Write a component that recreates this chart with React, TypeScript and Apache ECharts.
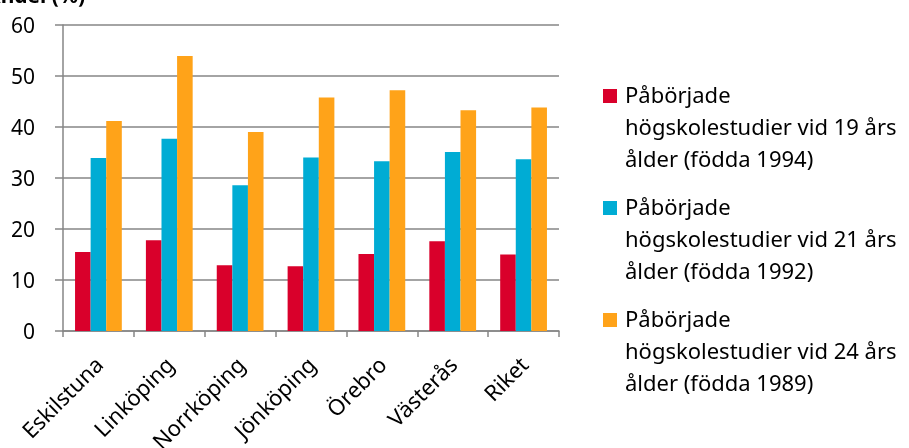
import React, { useEffect, useRef } from "react";
import * as echarts from "echarts";

const categories = ["Eskilstuna", "Linköping", "Norrköping", "Jönköping", "Örebro", "Västerås", "Riket"];
const seriesNames = [
  "Påbörjade\nhögskolestudier vid 19 års\nålder (födda 1994)",
  "Påbörjade\nhögskolestudier vid 21 års\nålder (födda 1992)",
  "Påbörjade\nhögskolestudier vid 24 års\nålder (födda 1989)",
];
const age19 = [15.5, 17.8, 12.9, 12.7, 15.1, 17.6, 15.0];
const age21 = [33.9, 37.7, 28.6, 34.0, 33.3, 35.1, 33.7];
const age24 = [41.2, 53.9, 39.0, 45.8, 47.2, 43.3, 43.8];
const colors = ["#D9002B", "#00ACD4", "#FFA319"];
const yTitle = "Andel (%)";

const FONT = "'Noto Sans', 'Open Sans', sans-serif";

export default function App() {
  const ref = useRef<HTMLDivElement>(null);
  useEffect(() => {
    if (!ref.current) return;
    const chart = echarts.init(ref.current, undefined, { renderer: "svg" });
    const values = [age19, age21, age24];
    const legendGraphics: any[] = [];
    seriesNames.forEach((name, i) => {
      const top = 78 + i * 112;
      legendGraphics.push({
        type: "rect",
        shape: { x: 603, y: top + 11, width: 14, height: 14 },
        style: { fill: colors[i] },
      });
      legendGraphics.push({
        type: "text",
        x: 625,
        y: top,
        style: {
          text: name,
          font: `22px ${FONT}`,
          fill: "#000",
          lineHeight: 32,
          textAlign: "left",
          textVerticalAlign: "top",
        },
      });
    });
    chart.setOption({
      animation: false,
      textStyle: { fontFamily: FONT },
      grid: { left: 63, top: 25, right: 350, bottom: 117, containLabel: false, outerBoundsMode: "none" },
      xAxis: {
        type: "category",
        data: categories,
        axisLine: { lineStyle: { color: "#868686", width: 1.5 } },
        axisTick: { show: true, length: 6, interval: 0, lineStyle: { color: "#868686", width: 1.5 } },
        axisLabel: { interval: 0, rotate: 45, fontSize: 22, color: "#000", margin: 29, fontFamily: FONT },
      },
      yAxis: {
        type: "value",
        min: 0,
        max: 60,
        interval: 10,
        axisLine: { show: true, lineStyle: { color: "#868686", width: 1.5 } },
        axisTick: { show: true, length: 8, lineStyle: { color: "#868686", width: 1.5 } },
        axisLabel: { fontSize: 21, color: "#000", margin: 28, fontFamily: FONT },
        splitLine: { show: true, lineStyle: { color: "#868686", width: 1.5 } },
      },
      series: values.map((v, i) => ({
        type: "bar",
        name: seriesNames[i],
        data: v,
        barGap: "0%",
        barCategoryGap: "34%",
        itemStyle: { color: colors[i] },
      })),
      graphic: [
        {
          type: "text",
          x: 85,
          y: 5,
          style: {
            text: yTitle,
            font: `bold 21px ${FONT}`,
            fill: "#000",
            textAlign: "right",
            textVerticalAlign: "bottom",
          },
        },
        ...legendGraphics,
      ],
    });
    return () => chart.dispose();
  }, []);
  return <div ref={ref} style={{ position: "fixed", left: 0, top: 0, width: 909, height: 448 }} />;
}
